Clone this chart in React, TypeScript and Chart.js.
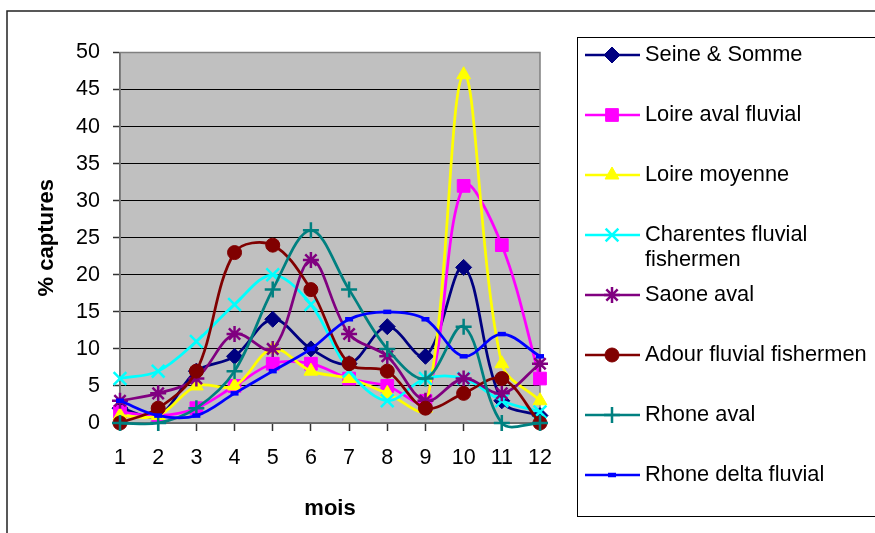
import React, { useEffect, useRef } from 'react';
import { Chart, registerables } from 'chart.js';
import { drawPoint } from 'chart.js/helpers';

Chart.register(...registerables);

const FONT = '"Liberation Sans", Arial, sans-serif';

// mois 1..12
const months = ['1', '2', '3', '4', '5', '6', '7', '8', '9', '10', '11', '12'];
const yTicks = [0, 5, 10, 15, 20, 25, 30, 35, 40, 45, 50];

const seineSomme = [2, 1, 7, 9, 14, 10, 8, 13, 9, 21, 3, 1];
const loireAval = [1.5, 1, 2, 5, 8, 8, 6, 5, 3, 32, 24, 6];
const loireMoyenne = [1, 1, 5, 5, 10, 7, 6, 4, 2, 47, 8, 3];
const charentes = [6, 7, 11, 16, 20, 16, 7, 3, 6, 6, 3, 1.5];
const saoneAval = [3, 4, 6, 12, 10, 22, 12, 9, 3, 6, 4, 8];
const adour = [0, 2, 7, 23, 24, 18, 8, 7, 2, 4, 6, 0];
const rhoneAval = [0, 0, 2, 7, 18, 26, 18, 10, 6, 13, 0, 0];
const rhoneDelta = [3, 1, 1, 4, 7, 10, 14, 15, 14, 9, 12, 9];

const series = [
  { name: 'Seine & Somme', data: seineSomme, color: '#000080', style: 'rectRot', radius: 8, bw: 1 },
  { name: 'Loire aval fluvial', data: loireAval, color: '#FF00FF', style: 'rect', radius: 9, bw: 1 },
  { name: 'Loire moyenne', data: loireMoyenne, color: '#FFFF00', style: 'triangle', radius: 8, bw: 1 },
  { name: 'Charentes fluvial fishermen', data: charentes, color: '#00FFFF', style: 'crossRot', radius: 9, bw: 2.5 },
  { name: 'Saone aval', data: saoneAval, color: '#800080', style: 'star', radius: 8, bw: 2.5 },
  { name: 'Adour fluvial fishermen', data: adour, color: '#800000', style: 'circle', radius: 7, bw: 1 },
  { name: 'Rhone aval', data: rhoneAval, color: '#008080', style: 'cross', radius: 8, bw: 2.5 },
  { name: 'Rhone delta fluvial', data: rhoneDelta, color: '#0000FF', style: 'line', radius: 4, bw: 4.5 },
];

// fond gris + cadre de la zone de tracé
const plotBackground = {
  id: 'plotBackground',
  beforeDraw(chart: any) {
    const { ctx, chartArea: a } = chart;
    ctx.save();
    ctx.fillStyle = '#C0C0C0';
    ctx.fillRect(a.left, a.top, a.right - a.left, a.bottom - a.top);
    ctx.restore();
  },
  beforeDatasetsDraw(chart: any) {
    const { ctx, chartArea: a } = chart;
    ctx.save();
    ctx.strokeStyle = '#808080';
    ctx.lineWidth = 1.5;
    ctx.strokeRect(a.left, a.top, a.right - a.left, a.bottom - a.top);
    ctx.restore();
  },
};

// légende dessinée à la main (style Excel)
const excelLegend = {
  id: 'excelLegend',
  afterDraw(chart: any) {
    const ctx = chart.ctx;
    ctx.save();
    // cadre extérieur
    ctx.strokeStyle = '#222';
    ctx.lineWidth = 1.5;
    ctx.strokeRect(7, 11, 1000, 1000);
    // cadre de la légende
    ctx.strokeStyle = '#000';
    ctx.lineWidth = 1;
    ctx.strokeRect(577.5, 37.5, 400, 479);

    ctx.font = `21.8px ${FONT}`;
    ctx.textBaseline = 'middle';
    ctx.textAlign = 'left';
    chart.data.datasets.forEach((ds: any, i: number) => {
      const y = 55 + i * 60;
      ctx.strokeStyle = ds.borderColor;
      ctx.lineWidth = 2.5;
      ctx.beginPath();
      ctx.moveTo(585, y);
      ctx.lineTo(640, y);
      ctx.stroke();
      ctx.fillStyle = ds.borderColor;
      ctx.lineWidth = ds.pointBorderWidth;
      drawPoint(ctx, { pointStyle: ds.pointStyle, rotation: 0, radius: ds.pointRadius, borderWidth: ds.pointBorderWidth }, 612, y);

      // retour à la ligne si le texte est trop long
      const words = String(ds.label).split(' ');
      const lines: string[] = [];
      let cur = '';
      words.forEach((w) => {
        const test = cur ? cur + ' ' + w : w;
        if (ctx.measureText(test).width > 226 && cur) {
          lines.push(cur);
          cur = w;
        } else {
          cur = test;
        }
      });
      lines.push(cur);
      ctx.fillStyle = '#000';
      lines.forEach((l, k) => ctx.fillText(l, 645, y + k * 25));
    });
    ctx.restore();
  },
};

const App: React.FC = () => {
  const chartRef = useRef<HTMLCanvasElement>(null);
  const chartInstance = useRef<Chart | null>(null);

  useEffect(() => {
    if (!chartRef.current) return;
    if (chartInstance.current) chartInstance.current.destroy();

    const n = series.length;
    chartInstance.current = new Chart(chartRef.current, {
      type: 'line',
      data: {
        labels: months,
        datasets: series.map((s, i) => ({
          label: s.name,
          data: s.data,
          borderColor: s.color,
          backgroundColor: s.color,
          borderWidth: 2.75,
          tension: 0.35,
          capBezierPoints: false,
          fill: false,
          clip: false as any,
          order: n - i,
          pointStyle: s.style as any,
          pointRadius: s.radius,
          pointHoverRadius: s.radius,
          pointBorderWidth: s.bw,
          pointBackgroundColor: s.color,
          pointBorderColor: s.color,
        })),
      },
      options: {
        responsive: false,
        animation: false,
        events: [],
        layout: { padding: { top: 52.5, right: 335, left: 0, bottom: 0 } },
        plugins: {
          legend: { display: false },
          tooltip: { enabled: false },
        },
        scales: {
          x: {
            type: 'category',
            offset: false,
            afterFit: (scale: any) => {
              scale.height = 110;
            },
            grid: { drawOnChartArea: false, tickLength: 8, tickColor: '#333', tickWidth: 1.5 },
            border: { color: '#404040', width: 1.5 },
            ticks: { color: '#000', font: { family: FONT, size: 21.5 }, padding: 14, maxRotation: 0, autoSkip: false },
            title: {
              display: true,
              text: 'mois',
              color: '#000',
              font: { family: FONT, size: 22, weight: 'bold' },
              padding: { top: 0, bottom: 11 },
            },
          },
          y: {
            min: 0,
            max: 50,
            afterFit: (scale: any) => {
              scale.width = 120;
            },
            afterBuildTicks: (scale: any) => {
              scale.ticks = yTicks.map((v) => ({ value: v }));
            },
            grid: { color: '#000', lineWidth: 1, tickLength: 7, tickColor: '#333', tickWidth: 1.5 },
            border: { color: '#404040', width: 1.5 },
            ticks: { color: '#000', font: { family: FONT, size: 21.5 }, padding: 13 },
            title: {
              display: true,
              text: '% captures',
              color: '#000',
              font: { family: FONT, size: 22, weight: 'bold' },
              padding: { top: 34, bottom: 0 },
            },
          },
        },
      },
      plugins: [plotBackground, excelLegend],
    });

    return () => {
      if (chartInstance.current) {
        chartInstance.current.destroy();
        chartInstance.current = null;
      }
    };
  }, []);

  return (
    <div style={{ position: 'fixed', left: 0, top: 0, width: 875, height: 533, background: '#fff' }}>
      <canvas ref={chartRef} width={875} height={533} style={{ width: 875, height: 533 }} />
    </div>
  );
};

export default App;
